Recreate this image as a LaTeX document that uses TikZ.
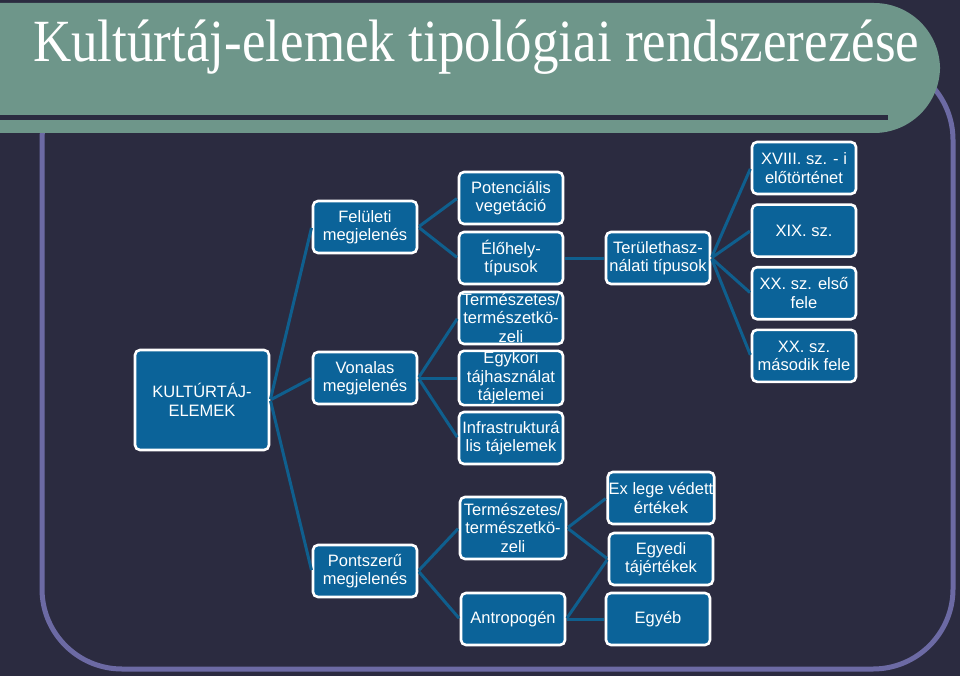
\documentclass[tikz,border=0pt]{standalone}
\usepackage{fontspec}
\setmainfont{Liberation Sans}
\newfontfamily\titlefont{Liberation Serif}
\usetikzlibrary{positioning}
\definecolor{slidebg}{HTML}{2B2B40}
\definecolor{banner}{HTML}{6E968A}
\definecolor{frameline}{HTML}{6C6AA4}
\definecolor{boxblue}{HTML}{0B6399}
\definecolor{linkblue}{HTML}{0F5F8E}
\tikzset{
	box/.style={draw=white, line width=2.6pt, rounded corners=5pt,
		fill=boxblue, text=white, align=center, minimum width=104pt,
		minimum height=52pt, inner sep=1pt,
		font=\fontsize{16.5}{18.5}\selectfont},
	link/.style={linkblue, line width=3pt, shorten <=1pt, shorten >=1pt},
}

\begin{document}
\begin{tikzpicture}[x=1pt, y=-1pt]
	% slide background, frame and title bar
	\fill[slidebg] (0,0) rectangle (960,676);
	\useasboundingbox (0,0) rectangle (960,676);
	\draw[frameline, line width=5pt, rounded corners=80pt] (42,60) rectangle (953,669);
	\fill[banner, rounded corners=66pt] (-200,3) rectangle (940,133);
	\fill[slidebg] (0,115) rectangle (888,120);
	\node[anchor=base west, inner sep=0pt, text=white,
		font=\titlefont\fontsize{53}{60}\selectfont] (title) at (33,62)
	{\scalebox{1}[1.13]{Kultúrtáj-elemek tipológiai rendszerezése}};

	% tree
	\node[box, minimum width=134pt, minimum height=100pt] (root) at (202,400) {KULTÚRTÁJ-\\ELEMEK};
	\node[box] (surf) at (365,227) {Felületi\\megjelenés};
	\node[box] (lin) at (365,378) {Vonalas\\megjelenés};
	\node[box] (pt) at (365,571) {Pontszerű\\megjelenés};

	\node[box] (veg) at (511,198) {Potenciális\\vegetáció};
	\node[box] (hab) at (511,258) {Élőhely-\\típusok};
	\node[box] (nat) at (511,318) {Természetes/\\természetkö-\\zeli};
	\node[box] (old) at (511,378) {Egykori\\tájhasználat\\tájelemei};
	\node[box] (infra) at (511,438) {Infrastrukturá\\lis tájelemek};

	\node[box] (use) at (658,258) {Területhasz-\\nálati típusok};
	\node[box] (c18) at (804,168) {XVIII. sz. - i\\előtörténet};
	\node[box, below=8pt of c18] (c19) {XIX. sz.};
	\node[box, below=8pt of c19] (c20a) {XX. sz. első\\fele};
	\node[box, below=8pt of c20a] (c20b) {XX. sz.\\második fele};

	\node[box, minimum width=106pt, minimum height=62pt] (pnat) at (513,528) {Természetes/\\természetkö-\\zeli};
	\node[box] (anth) at (513,619) {Antropogén};
	\node[box] (exlege) at (661,498) {Ex lege védett\\értékek};
	\node[box] (single) at (661,559) {Egyedi\\tájértékek};
	\node[box] (other) at (658,619) {Egyéb};

	\foreach \a/\b in {root/surf, root/lin, root/pt, surf/veg, surf/hab,
		lin/nat, lin/old, lin/infra, hab/use, use/c18, use/c19, use/c20a,
		use/c20b, pt/pnat, pt/anth, pnat/exlege, pnat/single, anth/single,
		anth/other}
	\draw[link] (\a.east) -- (\b.west);
\end{tikzpicture}
\end{document}
